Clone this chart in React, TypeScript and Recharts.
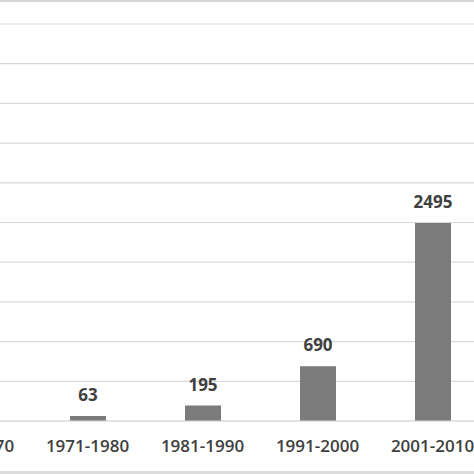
import React from "react";
import { BarChart, Bar, XAxis, YAxis, CartesianGrid, LabelList } from "recharts";

const decades = ["1961-1970", "1971-1980", "1981-1990", "1991-2000", "2001-2010"];
const counts = [12, 63, 195, 690, 2495];
const yTicks = [0, 500, 1000, 1500, 2000, 2500, 3000, 3500, 4000, 4500, 5000];

const data = decades.map((decade, i) => ({ decade, count: counts[i] }));

const textColor = "#404040";

export default function App() {
  return (
    <div
      style={{
        position: "fixed",
        left: 0,
        top: 0,
        width: 474,
        height: 474,
        overflow: "hidden",
        background: "#fff",
        fontFamily: "'Open Sans', sans-serif",
      }}
    >
      <div style={{ position: "absolute", left: -85, top: 0 }}>
        <BarChart
          width={575}
          height={474}
          data={data}
          margin={{ top: 24, right: 0, bottom: 0, left: 0 }}
          barSize={36}
        >
          <CartesianGrid vertical={false} stroke="#d9d9d9" strokeWidth={1.2} />
          <YAxis hide domain={[0, 5000]} ticks={yTicks} />
          <XAxis
            dataKey="decade"
            height={53}
            axisLine={{ stroke: "#d9d9d9", strokeWidth: 1.2 }}
            tickLine={false}
            tickSize={0}
            tickMargin={19}
            interval={0}
            tick={{ fill: textColor, fontSize: 17, fontWeight: 600 }}
          />
          <Bar dataKey="count" fill="#7b7b7b" isAnimationActive={false}>
            <LabelList
              dataKey="count"
              position="top"
              offset={15}
              fill={textColor}
              fontSize={17}
              fontWeight={700}
            />
          </Bar>
        </BarChart>
      </div>
      <div
        style={{ position: "absolute", left: 0, top: 0, width: 474, height: 2, background: "#d6d6d6" }}
      />
      <div
        style={{ position: "absolute", left: 0, top: 471, width: 474, height: 3, background: "#dcdcdc" }}
      />
    </div>
  );
}
